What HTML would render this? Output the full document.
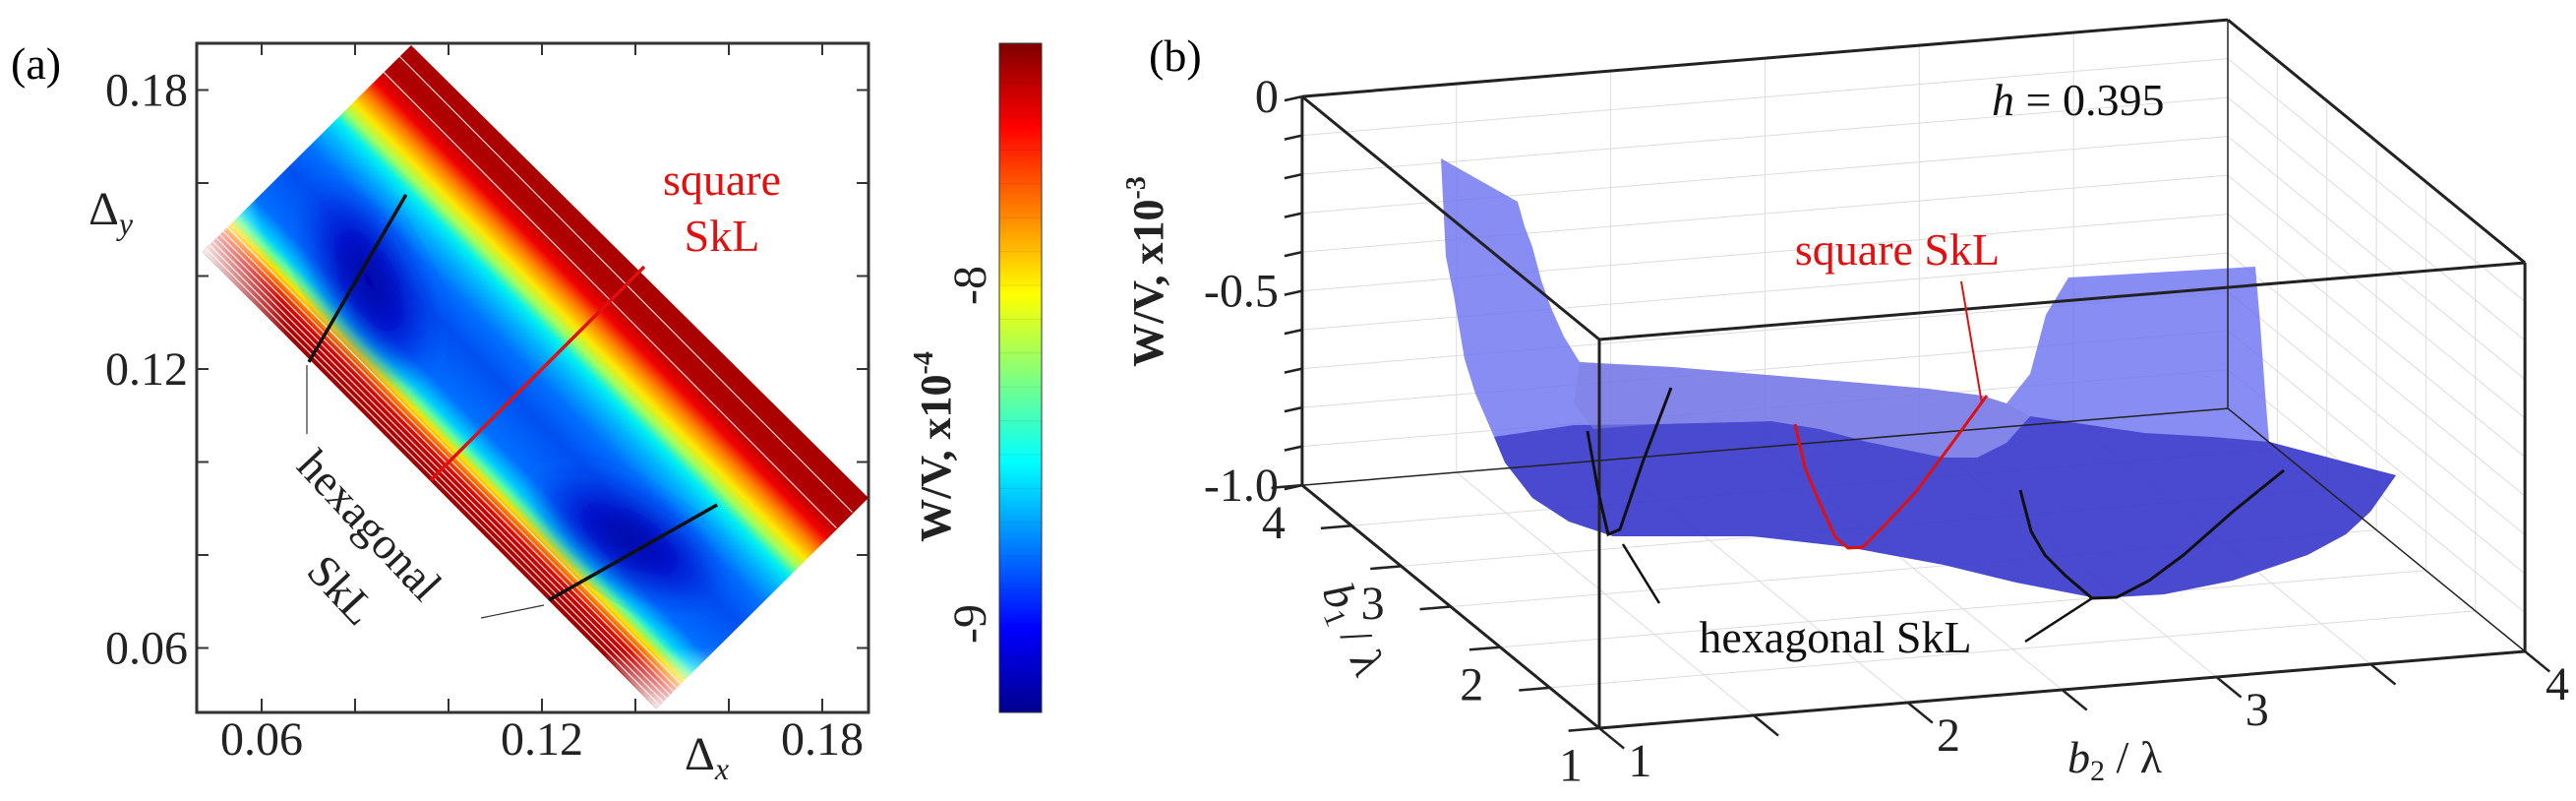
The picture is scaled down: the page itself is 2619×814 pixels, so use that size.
<!DOCTYPE html>
<html><head><meta charset="utf-8"><style>
html,body{margin:0;padding:0;background:#fff;}
svg{display:block;font-family:"Liberation Serif",serif;}
</style></head><body>
<svg id="fig" width="2619" height="814" viewBox="0 0 2619 814" xmlns="http://www.w3.org/2000/svg">
<defs>
  <linearGradient id="valley" gradientUnits="userSpaceOnUse" x1="436" y1="488" x2="652" y2="274">
    <stop offset="0" stop-color="#9a0000"/>
    <stop offset="0.07" stop-color="#d00000"/>
    <stop offset="0.10" stop-color="#ff5000"/>
    <stop offset="0.13" stop-color="#ffe000"/>
    <stop offset="0.16" stop-color="#60ffa0"/>
    <stop offset="0.19" stop-color="#00d0ff"/>
    <stop offset="0.25" stop-color="#0070ff"/>
    <stop offset="0.40" stop-color="#0050f0"/>
    <stop offset="0.50" stop-color="#0070ff"/>
    <stop offset="0.58" stop-color="#00b8ff"/>
    <stop offset="0.63" stop-color="#00f0f0"/>
    <stop offset="0.67" stop-color="#a0ff60"/>
    <stop offset="0.71" stop-color="#ffe800"/>
    <stop offset="0.76" stop-color="#ff8000"/>
    <stop offset="0.81" stop-color="#f00000"/>
    <stop offset="0.87" stop-color="#b00000"/>
    <stop offset="1" stop-color="#a80000"/>
  </linearGradient>
  <radialGradient id="minblue">
    <stop offset="0" stop-color="#000090"/>
    <stop offset="0.5" stop-color="#0010d0"/>
    <stop offset="1" stop-color="#0040f0" stop-opacity="0"/>
  </radialGradient>
  <linearGradient id="fadeL" gradientUnits="userSpaceOnUse" x1="206" y1="256" x2="270" y2="240">
    <stop offset="0" stop-color="#fff" stop-opacity="0.95"/>
    <stop offset="1" stop-color="#fff" stop-opacity="0"/>
  </linearGradient>
  <linearGradient id="fadeB" gradientUnits="userSpaceOnUse" x1="667" y1="722" x2="664" y2="660">
    <stop offset="0" stop-color="#fff" stop-opacity="0.95"/>
    <stop offset="1" stop-color="#fff" stop-opacity="0"/>
  </linearGradient>
  <linearGradient id="jet" x1="0" y1="1" x2="0" y2="0">
    <stop offset="0" stop-color="#00008f"/>
    <stop offset="0.125" stop-color="#0000ff"/>
    <stop offset="0.375" stop-color="#00ffff"/>
    <stop offset="0.625" stop-color="#ffff00"/>
    <stop offset="0.875" stop-color="#ff0000"/>
    <stop offset="1" stop-color="#800000"/>
  </linearGradient>
  <clipPath id="rectClip"><polygon points="418,46 883,506 667,720 206,256"/></clipPath>
  <filter id="blur8"><feGaussianBlur stdDeviation="14"/></filter>
</defs>

<!-- Panel A -->
<g id="panelA">
  <text x="11" y="80" font-size="46">(a)</text>
  <g clip-path="url(#rectClip)">
    <rect x="200" y="40" width="690" height="690" fill="url(#valley)"/>
    <ellipse cx="375" cy="285" rx="120" ry="55" transform="rotate(62 375 285)" fill="url(#minblue)" filter="url(#blur8)"/>
    <ellipse cx="640" cy="548" rx="120" ry="52" transform="rotate(32 640 548)" fill="url(#minblue)" filter="url(#blur8)"/>
    <g id="contourLines" stroke="#fff" stroke-width="1.2" fill="none" opacity="0.85"></g>
    <polygon points="206,256 290,170 380,260 300,350" fill="url(#fadeL)"/>
    <polygon points="667,720 580,630 690,600 760,630" fill="url(#fadeB)"/>
  </g>
  <rect x="200" y="44" width="683" height="680" fill="none" stroke="#333" stroke-width="3"/>
  <g id="axA"></g>
  <g id="linesA"></g>
  <line x1="312" y1="371" x2="312" y2="441" stroke="#333" stroke-width="1.2"/>
  <line x1="489" y1="628" x2="553" y2="615" stroke="#333" stroke-width="1.2"/>
  <text x="734" y="198" font-size="46" fill="#e01010" text-anchor="middle">square</text>
  <text x="734" y="255" font-size="46" fill="#e01010" text-anchor="middle">SkL</text>
  <text x="300" y="475" font-size="46" fill="#222" transform="rotate(47 300 475)">hexagonal</text>
  <text x="310" y="582" font-size="46" fill="#222" transform="rotate(47 310 582)">SkL</text>
  <text x="90" y="228" font-size="48" fill="#222">Δ<tspan font-size="32" font-style="italic" dy="10">y</tspan></text>
  <text x="696" y="782" font-size="48" fill="#222">Δ<tspan font-size="32" font-style="italic" dy="10">x</tspan></text>
  <rect x="1016" y="44" width="43" height="680" fill="url(#jet)" stroke="#333" stroke-width="1"/>
  <g id="cbar"></g>
  <text transform="translate(966 454) rotate(-90)" font-size="44" font-weight="bold" text-anchor="middle" fill="#222">W/V, x10<tspan font-size="28" dy="-18">-4</tspan></text>
</g>

<!-- Panel B -->
<g id="panelB">
  <text x="1168" y="72" font-size="46">(b)</text>
  <g id="gridB" stroke="#dcdcdc" stroke-width="1" fill="none"></g>
  <g>
    <path d="M1465,161 L1543,205 L1550,230 L1558,251 L1567,285 L1577,313 L1590,342 L1606,368 L1700,373 L1820,383 L1960,395 L2015,402 L2040,410 L2064,380 L2080,320 L2103,282 L2293,271 L2298,330 L2303,400 L2307,449 L2436,483 L2410,520 L2385,543 L2346,564 L2270,590 L2200,604 L2132,608 L2050,592 L1976,574 L1879,556 L1782,545 L1640,545 L1595,530 L1558,506 L1530,470 L1519,444 L1500,400 L1489,365 L1478,300 L1470,261 Z" fill="#6a70f0" fill-opacity="0.8"/>
    <path d="M1519,444 L1600,432 L1684,431 L1801,428 L1850,436 L1898,449 L1976,465 L2010,465 L2040,450 L2064,423 L2180,440 L2249,444 L2307,449 L2436,483 L2410,520 L2385,543 L2346,564 L2270,590 L2200,604 L2132,608 L2050,592 L1976,574 L1879,556 L1782,545 L1640,545 L1595,530 L1558,506 L1530,470 Z" fill="#3030c0" fill-opacity="0.72"/>
    <path d="M1606,368 L1700,373 L1820,383 L1960,395 L2015,402 L2040,410 L2064,423 L2040,450 L2010,465 L1976,465 L1898,449 L1850,436 L1801,428 L1684,431 L1620,436 L1600,410 Z" fill="#8080e0" fill-opacity="0.55"/>
  </g>
  <g id="boxB" stroke="#222" stroke-width="3" fill="none"></g>
  <g id="axB"></g>
  <path d="M1614,438 L1625,500 L1635,543 L1647,538 L1670,470 L1699,394" fill="none" stroke="#111" stroke-width="3"/>
  <path d="M1825,431 L1835,475 L1850,511 L1866,546 L1879,557 L1894,556 L1915,535 L1947,501 L1985,450 L2020,402" fill="none" stroke="#e01010" stroke-width="3"/>
  <path d="M2054,498 L2065,540 L2079,564 L2100,585 L2127,608 L2152,607 L2185,590 L2220,564 L2270,520 L2322,478" fill="none" stroke="#111" stroke-width="3"/>
  <line x1="1994" y1="286" x2="2015" y2="410" stroke="#e01010" stroke-width="2"/>
  <line x1="1650" y1="553" x2="1687" y2="613" stroke="#111" stroke-width="2.5"/>
  <line x1="2059" y1="652" x2="2127" y2="608" stroke="#111" stroke-width="2.5"/>
  <text x="1929" y="269" font-size="46" fill="#e01010" text-anchor="middle">square SkL</text>
  <text x="1866" y="663" font-size="46" fill="#111" text-anchor="middle">hexagonal SkL</text>
  <text x="2025" y="117" font-size="46" fill="#111"><tspan font-style="italic">h</tspan> = 0.395</text>
  <text transform="translate(1182 276) rotate(-90)" font-size="44" font-weight="bold" text-anchor="middle" fill="#222">W/V, x10<tspan font-size="28" dy="-18">-3</tspan></text>
  <text transform="translate(1362 645) rotate(68)" font-size="46" text-anchor="middle" fill="#222"><tspan font-style="italic">b</tspan><tspan font-size="30" dy="8">1</tspan><tspan dy="-8"> / λ</tspan></text>
  <text x="2102" y="785" font-size="46" fill="#222"><tspan font-style="italic">b</tspan><tspan font-size="30" dy="8">2</tspan><tspan dy="-8"> / λ</tspan></text>
</g>

<script>
// ---- Panel A data ----
const aXTicks = [0.06, 0.08, 0.10, 0.12, 0.14, 0.16, 0.18];
const aXLabels = ["0.06", "", "", "0.12", "", "", "0.18"];
const aYTicks = [0.06, 0.08, 0.10, 0.12, 0.14, 0.16, 0.18];
const aYLabels = ["0.06", "", "", "0.12", "", "", "0.18"];
const hexLine1 = [[0.0701, 0.1215], [0.0909, 0.1575]];
const squareLine = [[0.0962, 0.0961], [0.1419, 0.1420]];
const hexLine2 = [[0.1215, 0.0703], [0.1575, 0.0908]];
const cbarTicks = [-8, -9];
const cbarLabels = ["-8", "-9"];
// ---- Panel B data ----
const zTicks = [0, -0.1, -0.2, -0.3, -0.4, -0.5, -0.6, -0.7, -0.8, -0.9, -1.0];
const zLabels = ["0", "", "", "", "", "-0.5", "", "", "", "", "-1.0"];
const b1Ticks = [1, 1.5, 2, 2.5, 3, 3.5, 4];
const b1Labels = ["1", "", "2", "", "3", "", "4"];
const b2Ticks = [1, 1.5, 2, 2.5, 3, 3.5, 4];
const b2Labels = ["1", "", "2", "", "3", "", "4"];

const NS = "http://www.w3.org/2000/svg";
function mk(tag, attrs, parent) {
  const e = document.createElementNS(NS, tag);
  for (const k in attrs) e.setAttribute(k, attrs[k]);
  parent.appendChild(e);
  return e;
}
const ax = v => 266 + (v - 0.06) * 4750;
const ay = v => 375 - (v - 0.12) * 4725;
const cy = v => 290 - (v + 8) * 344;

const axA = document.getElementById('axA');
aXTicks.forEach((t, i) => {
  const x = ax(t);
  const l1 = mk('line', {x1: x, y1: 724, x2: x, y2: 710, stroke: '#333', 'stroke-width': 2}, axA);
  
  
  mk('line', {x1: x, y1: 44, x2: x, y2: 56, stroke: '#333', 'stroke-width': 2}, axA);
  if (aXLabels[i]) {
    const tx = mk('text', {x: x, y: 767, 'font-size': 48, 'text-anchor': 'middle', fill: '#222'}, axA);
    tx.textContent = aXLabels[i];
    
    
  }
});
aYTicks.forEach((t, i) => {
  const y = ay(t);
  const l1 = mk('line', {x1: 200, y1: y, x2: 212, y2: y, stroke: '#333', 'stroke-width': 2}, axA);
  
  
  mk('line', {x1: 883, y1: y, x2: 871, y2: y, stroke: '#333', 'stroke-width': 2}, axA);
  if (aYLabels[i]) {
    const tx = mk('text', {x: 191, y: y + 16, 'font-size': 48, 'text-anchor': 'end', fill: '#222'}, axA);
    tx.textContent = aYLabels[i];
    
    
  }
});
// white contour stripes in the red flanks
const cl = document.getElementById('contourLines');
[5, 10, 15, 20, 25, 30, 36, 262, 285].forEach(off => {
  const p = mk('path', {d: `M${206 + off * 0.7},${256 - off * 0.7} L${667 + off * 0.7},${720 - off * 0.7}`}, cl);
  
  
});
const linesA = document.getElementById('linesA');
[[hexLine1, '#111', 'hex-line-1'], [squareLine, '#e01010', 'square-line'], [hexLine2, '#111', 'hex-line-2']].forEach(([pts, col, nm]) => {
  const l = mk('line', {x1: ax(pts[0][0]), y1: ay(pts[0][1]), x2: ax(pts[1][0]), y2: ay(pts[1][1]), stroke: col, 'stroke-width': 3.5}, linesA);
  
  
});
const cbar = document.getElementById('cbar');
for (let v = -7.3; v > -9.26; v -= 0.1) {
  mk('line', {x1: 1016, y1: cy(v), x2: 1059, y2: cy(v), stroke: '#000', 'stroke-opacity': 0.08, 'stroke-width': 1}, cbar);
}
cbarTicks.forEach((t, i) => {
  const tx = mk('text', {transform: `translate(1002 ${cy(t)}) rotate(-90)`, 'font-size': 48, 'text-anchor': 'middle', fill: '#222'}, cbar);
  tx.textContent = cbarLabels[i];
  
  
});

// ---- Panel B projection ----
function P(b1, b2, z) {
  return [1626 + (b2 - 1) * 313.7 + (b1 - 1) * -100.7, 740 + (b2 - 1) * -26 + (b1 - 1) * -82.3 + (z + 1) * -395];
}
const gridB = document.getElementById('gridB');
function seg(g, a, b, attrs) {
  const p = P(...a), q = P(...b);
  return mk('line', Object.assign({x1: p[0], y1: p[1], x2: q[0], y2: q[1]}, attrs || {}), g);
}
zTicks.forEach(z => {
  const l = seg(gridB, [4, 1, z], [4, 4, z]);
  
  
  const m = seg(gridB, [4, 4, z], [1, 4, z]);
  
  
});
b2Ticks.forEach(b => {
  const l = seg(gridB, [4, b, -1], [4, b, 0]);
  
  
  const f = seg(gridB, [1, b, -1], [4, b, -1]);
  
  
});
b1Ticks.forEach(b => {
  const l = seg(gridB, [b, 4, -1], [b, 4, 0]);
  
  
  const f = seg(gridB, [b, 1, -1], [b, 4, -1]);
  
  
});
const boxB = document.getElementById('boxB');
const edges = [
  [[4,1,0],[4,4,0]], [[4,4,0],[1,4,0]], [[1,4,0],[1,1,0]], [[1,1,0],[4,1,0]],
  [[4,1,0],[4,1,-1]], [[1,1,0],[1,1,-1]], [[1,4,0],[1,4,-1]],
  [[4,1,-1],[1,1,-1]], [[1,1,-1],[1,4,-1]]
];
edges.forEach(e => {
  const l = seg(boxB, e[0], e[1]);
  
  
});
[[[4,4,0],[4,4,-1]], [[4,1,-1],[4,4,-1]], [[4,4,-1],[1,4,-1]]].forEach(e => {
  const l = seg(boxB, e[0], e[1], {'stroke-width': 1.5});
  
  
});
const axB = document.getElementById('axB');
zTicks.forEach((z, i) => {
  const p = P(4, 1, z);
  const l = mk('line', {x1: p[0] - 18, y1: p[1] + 4, x2: p[0], y2: p[1], stroke: '#222', 'stroke-width': 2.5}, axB);
  
  
  if (zLabels[i]) {
    const tx = mk('text', {x: p[0] - 24, y: p[1] + 16, 'font-size': 48, 'text-anchor': 'end', fill: '#222'}, axB);
    tx.textContent = zLabels[i];
    
    
  }
});
b1Ticks.forEach((b, i) => {
  const l = seg(axB, [b, 1, -1], [b, 0.9, -1], {stroke: '#222', 'stroke-width': 2.5});
  
  
  if (b1Labels[i]) {
    const p = P(b, 0.78, -1);
    const tx = mk('text', {x: p[0] + 40, y: p[1] + 48, 'font-size': 48, 'text-anchor': 'middle', fill: '#222'}, axB);
    tx.textContent = b1Labels[i];
    
    
  }
});
b2Ticks.forEach((b, i) => {
  const l = seg(axB, [1, b, -1], [0.75, b, -1], {stroke: '#222', 'stroke-width': 2.5});
  
  
  if (b2Labels[i]) {
    const p = P(0.55, b, -1);
    const tx = mk('text', {x: Math.min(p[0] - 4, 2600), y: p[1] + 12, 'font-size': 48, 'text-anchor': 'middle', fill: '#222'}, axB);
    tx.textContent = b2Labels[i];
    
    
  }
});
</script>
</svg>
</body></html>
